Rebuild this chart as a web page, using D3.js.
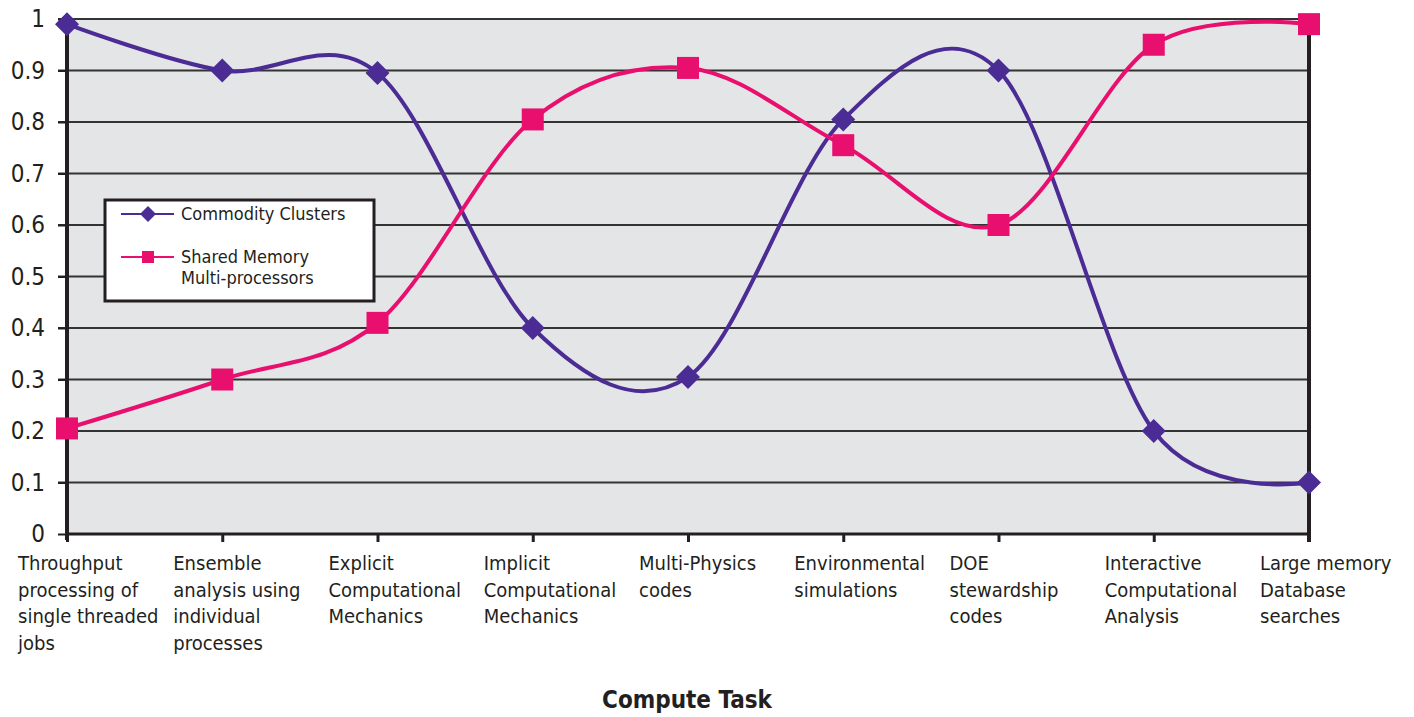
<!DOCTYPE html>
<html><head><meta charset="utf-8">
<script src="https://cdn.jsdelivr.net/npm/d3@7"></script>
<style>body{margin:0;background:#fff;} text{font-family:"DejaVu Sans Condensed","DejaVu Sans",sans-serif;fill:#231f20;}</style>
</head><body>
<svg id="c" width="1414" height="717"></svg>
<script>
const categories = [
  ["Throughput","processing of","single threaded","jobs"],
  ["Ensemble","analysis using","individual","processes"],
  ["Explicit","Computational","Mechanics"],
  ["Implicit","Computational","Mechanics"],
  ["Multi-Physics","codes"],
  ["Environmental","simulations"],
  ["DOE","stewardship","codes"],
  ["Interactive","Computational","Analysis"],
  ["Large memory","Database","searches"]
];
const commodityClusters = [0.99, 0.9, 0.895, 0.4, 0.305, 0.805, 0.9, 0.2, 0.1];
const sharedMemory = [0.205, 0.3, 0.41, 0.805, 0.905, 0.755, 0.6, 0.95, 0.99];
const yTicks = [0,0.1,0.2,0.3,0.4,0.5,0.6,0.7,0.8,0.9,1];
const yTickLabels = ["0","0.1","0.2","0.3","0.4","0.5","0.6","0.7","0.8","0.9","1"];
const seriesNames = ["Commodity Clusters", ["Shared Memory","Multi-processors"]];
const xTitle = "Compute Task";

const purple = "#4b2c94", pink = "#e80f6e";
const svg = d3.select("#c");
const L = 67, R = 1309, T = 19, B = 534;
const x = d3.scalePoint().domain(d3.range(categories.length)).range([L, R]).padding(0);
const y = d3.scaleLinear().domain([0,1]).range([B, T]);

svg.append("rect").attr("x",L).attr("y",T).attr("width",R-L).attr("height",B-T).attr("fill","#e4e5e7");

// gridlines
svg.append("g").selectAll("line").data(yTicks.filter(v=>v>0)).join("line")
  .attr("x1",L-9).attr("x2",R).attr("y1",d=>y(d)).attr("y2",d=>y(d))
  .attr("stroke","#333").attr("stroke-width",2);

// y axis labels
const yAxis = d3.axisLeft(y).tickValues(yTicks).tickFormat((d,i)=>yTickLabels[i]).tickSize(9).tickPadding(13);
const gy = svg.append("g").attr("transform",`translate(${L},0)`).call(yAxis);
gy.select(".domain").remove();
gy.selectAll("line").attr("stroke","#231f20").attr("stroke-width",2);
gy.selectAll("text").style("font-size","24px").attr("fill","#231f20").style("font-family","'DejaVu Sans Condensed',sans-serif").style("font-weight","300");

// x axis
const xAxis = d3.axisBottom(x).tickSize(8).tickFormat("");
const gx = svg.append("g").attr("transform",`translate(0,${B})`).call(xAxis);
gx.select(".domain").remove();
gx.selectAll("line").attr("stroke","#231f20").attr("stroke-width",3);

// axis frame lines
svg.append("line").attr("x1",L).attr("x2",L).attr("y1",T).attr("y2",B+6).attr("stroke","#231f20").attr("stroke-width",4);
svg.append("line").attr("x1",R).attr("x2",R).attr("y1",T).attr("y2",B+8).attr("stroke","#231f20").attr("stroke-width",4);
svg.append("line").attr("x1",L).attr("x2",R).attr("y1",B).attr("y2",B).attr("stroke","#231f20").attr("stroke-width",3);

// category labels
const cl = svg.append("g");
categories.forEach((lines,i)=>{
  const t = cl.append("text").attr("x",x(i)-49).attr("y",570).style("font-size","20px");
  lines.forEach((s,j)=>t.append("tspan").attr("x",x(i)-49).attr("dy", j===0?0:26.5).text(s));
});

// x title
svg.append("text").attr("x",687).attr("y",708).attr("text-anchor","middle")
  .style("font-size","24px").style("font-weight","bold").text(xTitle);

const line = d3.line().x((d,i)=>x(i)).y(d=>y(d)).curve(d3.curveCardinal.tension(0));

svg.append("path").datum(commodityClusters).attr("d",line).attr("fill","none").attr("stroke",purple).attr("stroke-width",4);
svg.append("path").datum(sharedMemory).attr("d",line).attr("fill","none").attr("stroke",pink).attr("stroke-width",4);

const diamond = s => `M0,${-s}L${s},0L0,${s}L${-s},0Z`;
svg.append("g").selectAll("path").data(commodityClusters).join("path")
  .attr("transform",(d,i)=>`translate(${x(i)},${y(d)})`).attr("d",diamond(12)).attr("fill",purple);
svg.append("g").selectAll("rect").data(sharedMemory).join("rect")
  .attr("x",(d,i)=>x(i)-11).attr("y",d=>y(d)-11).attr("width",22).attr("height",22).attr("fill",pink);

// legend
const lg = svg.append("g");
lg.append("rect").attr("x",105).attr("y",200).attr("width",269).attr("height",101).attr("fill","#fff").attr("stroke","#231f20").attr("stroke-width",3);
lg.append("line").attr("x1",121).attr("x2",174).attr("y1",214).attr("y2",214).attr("stroke",purple).attr("stroke-width",2);
lg.append("path").attr("transform","translate(148,214)").attr("d",diamond(8)).attr("fill",purple);
lg.append("text").attr("x",181).attr("y",220).style("font-size","18px").style("font-weight","500").text(seriesNames[0]);
lg.append("line").attr("x1",121).attr("x2",174).attr("y1",257).attr("y2",257).attr("stroke",pink).attr("stroke-width",2);
lg.append("rect").attr("x",142).attr("y",251).attr("width",12).attr("height",12).attr("fill",pink);
const t2 = lg.append("text").attr("x",181).attr("y",263).style("font-size","18px").style("font-weight","500");
seriesNames[1].forEach((s,j)=>t2.append("tspan").attr("x",181).attr("dy",j?21:0).text(s));
</script>
</body></html>
